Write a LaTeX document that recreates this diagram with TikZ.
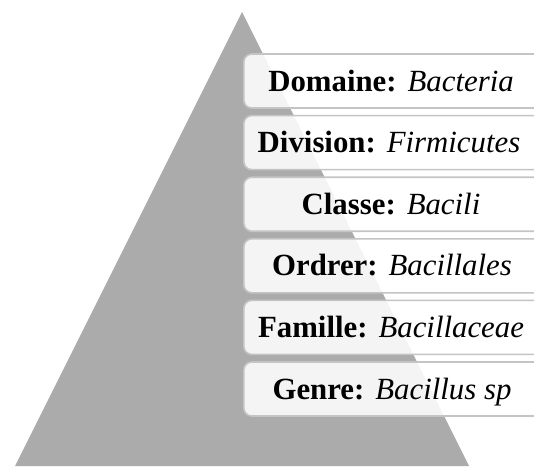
\documentclass[tikz,border=0pt]{standalone}
\usepackage{fontspec}
\setmainfont{Liberation Serif}
\definecolor{pyramidgray}{RGB}{171,171,171}
\definecolor{rankedge}{RGB}{196,196,196}
\newcommand{\rankname}[2]{\textbf{#1}\hspace{11pt}\textit{#2}}
\begin{document}
\begin{tikzpicture}[x=1pt,y=-1pt,
  rankbox/.style={rectangle, rounded corners=8pt, draw=rankedge, line width=1.6pt,
    fill=white, fill opacity=0.88, minimum width=320pt, minimum height=54pt,
    inner sep=0pt, anchor=west},
  ranklabel/.style={anchor=base, inner sep=0pt,
    font=\fontsize{30.8}{34}\selectfont}]
  \useasboundingbox (0,0) rectangle (534,466);
  \clip (0,0) rectangle (534,466);
  % background pyramid
  \fill[pyramidgray] (242,12) -- (469,466) -- (15,466) -- cycle;
  % one translucent box per taxonomic rank, top to bottom
  \foreach \nm/\yc in {domaine/81.0, division/142.6, classe/204.2,
                       ordre/265.8, famille/327.4, genre/389.0}
    \node[rankbox] (\nm) at (243,\yc) {};
  % rank labels, centred on the visible part of each box
  \node[ranklabel] (domaine-t)  at ([yshift=-10pt]domaine.center -| 391,0)  {\rankname{Domaine:}{Bacteria}};
  \node[ranklabel] (division-t) at ([yshift=-10pt]division.center -| 389,0) {\rankname{Division:}{Firmicutes}};
  \node[ranklabel] (classe-t)   at ([yshift=-10pt]classe.center -| 391,0)   {\rankname{Classe:}{Bacili}};
  \node[ranklabel] (ordre-t)    at ([yshift=-10pt]ordre.center -| 392,0)    {\rankname{Ordrer:}{Bacillales}};
  \node[ranklabel] (famille-t)  at ([yshift=-10pt]famille.center -| 391,0)  {\rankname{Famille:}{Bacillaceae}};
  \node[ranklabel] (genre-t)    at ([yshift=-10pt]genre.center -| 392,0)    {\rankname{Genre:}{Bacillus sp}};
\end{tikzpicture}
\end{document}
